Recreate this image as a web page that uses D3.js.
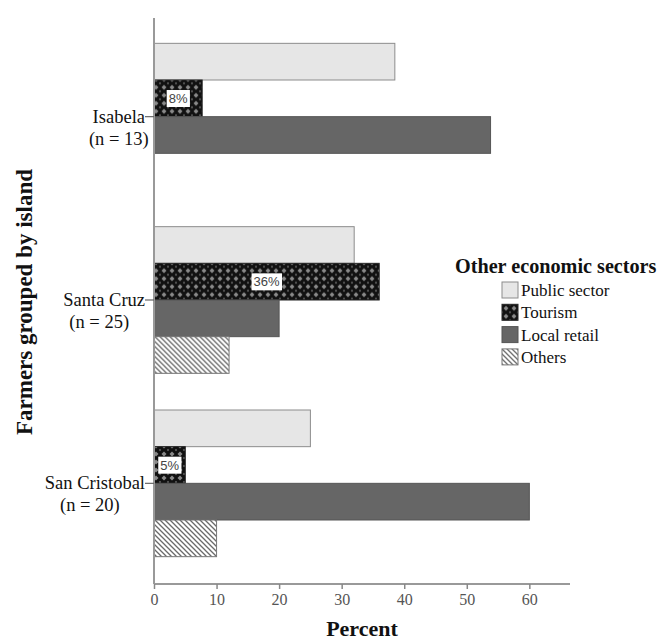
<!DOCTYPE html>
<html>
<head>
<meta charset="utf-8">
<script src="https://cdn.jsdelivr.net/npm/d3@7"></script>
<style>
  body { margin: 0; background: #fff; }
  svg { display: block; }
</style>
</head>
<body>
<div id="chart"></div>
<script>
// Data
const islands = ["Isabela", "Santa Cruz", "San Cristobal"];
const nLabels = ["(n = 13)", "(n = 25)", "(n = 20)"];
const sectors = ["Public sector", "Tourism", "Local retail", "Others"];
const publicSector = [38.5, 32, 25];
const tourism = [7.7, 36, 5];
const localRetail = [53.8, 20, 60];
const others = [0, 12, 10];
const tourismLabels = ["8%", "36%", "5%"];
const xTicks = [0, 10, 20, 30, 40, 50, 60];

const seriesValues = [publicSector, tourism, localRetail, others];

const width = 660, height = 642;
const plot = { left: 154, right: 570, top: 18, bottom: 584 };
const serif = "Liberation Serif, Times New Roman, serif";

const svg = d3.select("#chart").append("svg")
  .attr("width", width)
  .attr("height", height);

// Patterns
const defs = svg.append("defs");

const pTour = defs.append("pattern")
  .attr("id", "tourism")
  .attr("patternUnits", "userSpaceOnUse")
  .attr("width", 8).attr("height", 8);
pTour.append("rect").attr("width", 8).attr("height", 8).attr("fill", "#111");
pTour.append("path")
  .attr("d", "M4,1.5 L6.5,4 L4,6.5 L1.5,4 Z")
  .attr("fill", "#8a8a8a");
pTour.append("path")
  .attr("d", "M0,0 L1.2,0 L0,1.2 Z M8,0 L6.8,0 L8,1.2 Z M0,8 L1.2,8 L0,6.8 Z M8,8 L6.8,8 L8,6.8 Z")
  .attr("fill", "#666");

const pOth = defs.append("pattern")
  .attr("id", "others")
  .attr("patternUnits", "userSpaceOnUse")
  .attr("width", 5).attr("height", 5);
pOth.append("rect").attr("width", 5).attr("height", 5).attr("fill", "#fff");
pOth.append("path")
  .attr("d", "M-1,-1 L6,6 M-1,4 L1,6 M4,-1 L6,1")
  .attr("stroke", "#6a6a6a")
  .attr("stroke-width", 1.3);

const fills = ["#e6e6e6", "url(#tourism)", "#666666", "url(#others)"];
const strokes = ["#8c8c8c", "#222", "#555", "#777"];

// Scales
const x = d3.scaleLinear().domain([0, 66.5]).range([plot.left, plot.right]);
const y = d3.scaleBand().domain(islands).range([25, 575]).paddingInner(0.2).paddingOuter(0.1);
const ySub = d3.scaleBand().domain(sectors).range([0, y.bandwidth()]);

// Bars
const groups = svg.append("g").attr("class", "bars")
  .selectAll("g")
  .data(islands)
  .join("g")
  .attr("transform", d => `translate(0,${y(d)})`);

groups.selectAll("rect")
  .data((d, i) => sectors.map((s, k) => ({ sector: s, k, value: seriesValues[k][i] })).filter(e => e.value > 0))
  .join("rect")
  .attr("x", x(0))
  .attr("y", d => ySub(d.sector))
  .attr("width", d => x(d.value) - x(0))
  .attr("height", ySub.bandwidth())
  .attr("fill", d => fills[d.k])
  .attr("stroke", d => strokes[d.k])
  .attr("stroke-width", 1);

// Tourism value labels
groups.each(function (d, i) {
  const g = d3.select(this);
  const cx = (x(0) + x(tourism[i])) / 2;
  const cy = ySub("Tourism") + ySub.bandwidth() / 2;
  const t = g.append("text")
    .attr("x", cx).attr("y", cy)
    .attr("dy", "0.36em")
    .attr("text-anchor", "middle")
    .attr("font-family", "Liberation Sans, Arial, sans-serif")
    .attr("font-size", 13)
    .attr("fill", "#444")
    .text(tourismLabels[i]);
  const bb = t.node().getBBox();
  g.insert("rect", "text")
    .attr("x", bb.x - 2).attr("y", bb.y - 1)
    .attr("width", bb.width + 4).attr("height", bb.height + 2)
    .attr("fill", "#fff");
});

// X axis
const xAxisG = svg.append("g")
  .attr("transform", `translate(0,${plot.bottom})`)
  .call(d3.axisBottom(x).tickValues(xTicks).tickSize(5).tickSizeOuter(0));
xAxisG.select(".domain").attr("stroke", "#999").attr("stroke-width", 2)
  .attr("d", `M${plot.left},0H${plot.right}`);
xAxisG.selectAll(".tick line").attr("stroke", "#888").attr("stroke-width", 1.5);
xAxisG.selectAll(".tick text")
  .attr("font-family", serif)
  .attr("font-size", 16)
  .attr("fill", "#555")
  .attr("dy", "0.8em");

// Y axis
const yAxisG = svg.append("g")
  .attr("transform", `translate(${plot.left},0)`)
  .call(d3.axisLeft(y).tickSize(9).tickSizeOuter(0).tickFormat(""));
yAxisG.select(".domain").attr("stroke", "#999").attr("stroke-width", 2)
  .attr("d", `M0,${plot.top}V${plot.bottom}`);
yAxisG.selectAll(".tick line").attr("stroke", "#666").attr("stroke-width", 1.2);

yAxisG.selectAll(".tick").each(function (d, i) {
  const tick = d3.select(this);
  const t1 = tick.append("text")
    .attr("x", -9).attr("y", 6)
    .attr("text-anchor", "end")
    .attr("font-family", serif)
    .attr("font-size", 18.5)
    .attr("fill", "#111")
    .text(d);
  const w = t1.node().getComputedTextLength();
  tick.append("text")
    .attr("x", -9 - w / 2 - (i === 0 ? 0 : 5)).attr("y", 28)
    .attr("text-anchor", "middle")
    .attr("font-family", serif)
    .attr("font-size", 18.5)
    .attr("fill", "#111")
    .text(nLabels[i]);
});

// Axis titles
svg.append("text")
  .attr("x", 362)
  .attr("y", 636)
  .attr("text-anchor", "middle")
  .attr("font-family", serif)
  .attr("font-weight", "bold")
  .attr("font-size", 22)
  .attr("fill", "#111")
  .text("Percent");

svg.append("text")
  .attr("transform", "translate(32,302) rotate(-90)")
  .attr("text-anchor", "middle")
  .attr("font-family", serif)
  .attr("font-weight", "bold")
  .attr("font-size", 23)
  .attr("fill", "#111")
  .text("Farmers grouped by island");

// Legend
const legend = svg.append("g").attr("transform", "translate(455,0)");
legend.append("text")
  .attr("x", 0).attr("y", 273)
  .attr("font-family", serif)
  .attr("font-weight", "bold")
  .attr("font-size", 20.2)
  .attr("fill", "#111")
  .text("Other economic sectors");

const items = legend.selectAll("g.item")
  .data(sectors)
  .join("g")
  .attr("class", "item")
  .attr("transform", (d, i) => `translate(47,${282 + i * 22.3})`);
items.append("rect")
  .attr("width", 16).attr("height", 16)
  .attr("fill", (d, i) => fills[i])
  .attr("stroke", (d, i) => strokes[i]);
items.append("text")
  .attr("x", 19).attr("y", 14)
  .attr("font-family", serif)
  .attr("font-size", 17)
  .attr("fill", "#111")
  .text(d => d);
</script>
</body>
</html>
